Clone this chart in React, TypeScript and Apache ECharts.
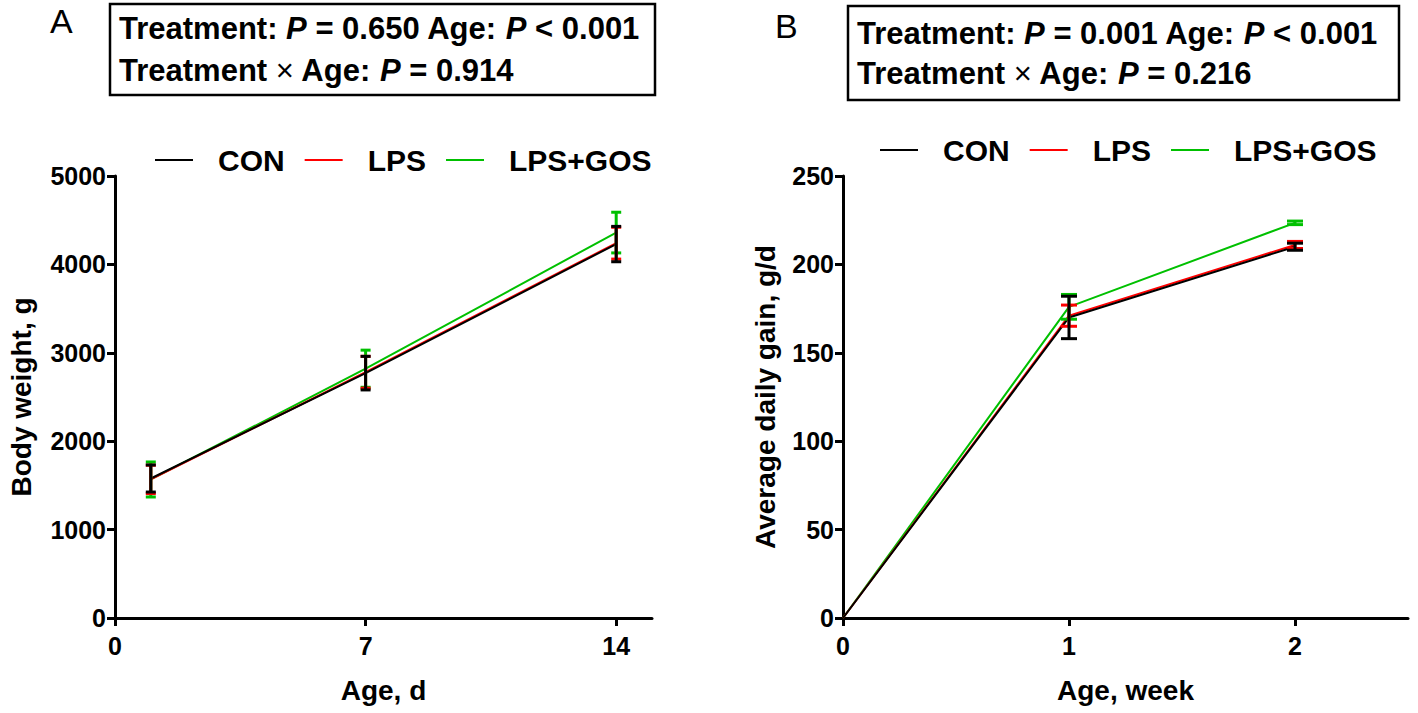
import React, { useEffect, useRef } from "react";
import * as echarts from "echarts";

// ---- Data ----
const seriesNames = ["CON", "LPS", "LPS+GOS"];
const seriesColors = ["#000000", "#ff0000", "#00c000"];

// Panel A: body weight (g) by age (d)
const ageDays = [1, 7, 14];
const bwCON = [1578, 2770, 4230];
const bwCONse = [153, 190, 200];
const bwLPS = [1568, 2780, 4240];
const bwLPSse = [160, 180, 180];
const bwGOS = [1567, 2820, 4360];
const bwGOSse = [198, 210, 230];
const dayTicks = [0, 7, 14];

// Panel B: average daily gain (g/d) by age (week)
const ageWeeks = [0, 1, 2];
const adgCON = [0, 170, 210];
const adgCONse = [0, 12, 2];
const adgLPS = [0, 171, 211];
const adgLPSse = [0, 6, 2];
const adgGOS = [0, 176, 223.5];
const adgGOSse = [0, 7, 1];
const weekTicks = [0, 1, 2];

const statsA = ["0.650", "< 0.001", "0.914"];
const statsB = ["0.001", "< 0.001", "0.216"];

const FONT = "'Liberation Sans', Arial, sans-serif";

export default function App() {
  const ref = useRef<HTMLDivElement>(null);

  useEffect(() => {
    document.body.style.margin = "0";
    if (!ref.current) return;
    const chart = echarts.init(ref.current, null, { renderer: "svg" });

    const zip = (xs: number[], ys: number[]) => xs.map((x, i) => [x, ys[i]]);
    const zip3 = (xs: number[], ys: number[], es: number[]) =>
      xs.map((x, i) => [x, ys[i], es[i]]);

    const makeErr = (capHalf: number, width: number, color: string) =>
      function (params: any, api: any) {
        const x = api.value(0);
        const y = api.value(1);
        const e = api.value(2);
        if (!e) return null;
        const top = api.coord([x, y + e]);
        const bot = api.coord([x, y - e]);
        const st = { stroke: color, lineWidth: width };
        return {
          type: "group",
          children: [
            { type: "line", shape: { x1: top[0], y1: top[1], x2: bot[0], y2: bot[1] }, style: st },
            { type: "line", shape: { x1: top[0] - capHalf, y1: top[1], x2: top[0] + capHalf, y2: top[1] }, style: st },
            { type: "line", shape: { x1: bot[0] - capHalf, y1: bot[1], x2: bot[0] + capHalf, y2: bot[1] }, style: st },
          ],
        };
      };

    const axisCommon = {
      axisLine: { show: true, lineStyle: { color: "#000", width: 3 } },
      axisTick: { show: true, length: 8, lineStyle: { color: "#000", width: 3 } },
      splitLine: { show: false },
      axisLabel: {
        color: "#000", fontFamily: FONT, fontWeight: "bold" as const, fontSize: 25, margin: 9,
        formatter: (v: number) => String(v),
      },
      nameTextStyle: { color: "#000", fontFamily: FONT, fontWeight: "bold" as const, fontSize: 28 },
    };

    const aVals = [bwCON, bwLPS, bwGOS];
    const aErr = [bwCONse, bwLPSse, bwGOSse];
    const bVals = [adgCON, adgLPS, adgGOS];
    const bErr = [adgCONse, adgLPSse, adgGOSse];
    const order = [2, 1, 0];

    const series: any[] = [];
    order.forEach((i) => {
      series.push({
        type: "line", name: seriesNames[i], xAxisIndex: 0, yAxisIndex: 0,
        data: zip(ageDays, aVals[i]), symbol: "none", color: seriesColors[i],
        lineStyle: { color: seriesColors[i], width: 2 }, z: 2,
      });
      series.push({
        type: "line", name: seriesNames[i], xAxisIndex: 1, yAxisIndex: 1,
        data: zip(ageWeeks, bVals[i]), symbol: "none", color: seriesColors[i],
        lineStyle: { color: seriesColors[i], width: 2 }, z: 2,
      });
    });
    order.forEach((i) => {
      series.push({
        type: "custom", name: seriesNames[i] + " SEM A", xAxisIndex: 0, yAxisIndex: 0,
        data: zip3(ageDays, aVals[i], aErr[i]), encode: { x: 0, y: 1 },
        renderItem: makeErr(5, 3, seriesColors[i]), z: 3,
      });
      series.push({
        type: "custom", name: seriesNames[i] + " SEM B", xAxisIndex: 1, yAxisIndex: 1,
        data: zip3(ageWeeks, bVals[i], bErr[i]), encode: { x: 0, y: 1 },
        renderItem: makeErr(8, 3, seriesColors[i]), z: 3,
      });
    });

    const FS = 31;
    const rich = {
      b: { fontFamily: FONT, fontWeight: "bold", fontSize: FS, color: "#000" },
      i: { fontFamily: FONT, fontWeight: "bold", fontStyle: "italic", fontSize: FS, color: "#000" },
      n: { fontFamily: FONT, fontWeight: "normal", fontSize: FS, color: "#000" },
    };
    const line1 = (s: string[]) => `{b|Treatment: }{i|P}{b| = ${s[0]} Age: }{i|P}{b| ${s[1]}}`;
    const line2 = (s: string[]) => `{b|Treatment }{n|×}{b| Age: }{i|P}{b| = ${s[2]}}`;

    const legendCommon = {
      data: seriesNames,
      orient: "horizontal" as const,
      icon: "rect",
      itemWidth: 38,
      itemHeight: 2,
      itemGap: 20,
      textStyle: { color: "#000", fontFamily: FONT, fontWeight: "bold" as const, fontSize: 30, padding: [0, 0, 0, 20] },
    };

    chart.setOption({
      animation: false,
      backgroundColor: "#fff",
      grid: [
        { left: 115, top: 176, width: 537, height: 442 },
        { left: 843, top: 176, width: 565, height: 442 },
      ],
      xAxis: [
        {
          ...axisCommon, type: "value", gridIndex: 0, min: 0, max: 15,
          name: "Age, d", nameLocation: "middle", nameGap: 58,
          axisTick: { ...axisCommon.axisTick, customValues: dayTicks },
          axisLabel: { ...axisCommon.axisLabel, margin: 15, customValues: dayTicks },
        },
        {
          ...axisCommon, type: "value", gridIndex: 1, min: 0, max: 2.5,
          name: "Age, week", nameLocation: "middle", nameGap: 58,
          axisTick: { ...axisCommon.axisTick, customValues: weekTicks },
          axisLabel: { ...axisCommon.axisLabel, margin: 15, customValues: weekTicks },
        },
      ],
      yAxis: [
        {
          ...axisCommon, type: "value", gridIndex: 0, min: 0, max: 5000, interval: 1000,
          name: "Body weight, g", nameLocation: "middle", nameGap: 80,
        },
        {
          ...axisCommon, type: "value", gridIndex: 1, min: 0, max: 250, interval: 50,
          name: "Average daily gain, g/d", nameLocation: "middle", nameGap: 64,
        },
      ],
      legend: [
        { ...legendCommon, left: 150, top: 140 },
        { ...legendCommon, left: 875, top: 130 },
      ],
      graphic: [
        { type: "text", left: 50, top: 4, style: { text: "A", font: `normal 34px ${FONT}`, fill: "#000" } },
        { type: "text", left: 775, top: 9, style: { text: "B", font: `normal 34px ${FONT}`, fill: "#000" } },
        { type: "rect", shape: { x: 110, y: 4, width: 545, height: 91 }, style: { fill: "none", stroke: "#000", lineWidth: 2.5 } },
        { type: "text", x: 119, y: 13, style: { text: line1(statsA), rich, fill: "#000" } },
        { type: "text", x: 119, y: 55, style: { text: line2(statsA), rich, fill: "#000" } },
        { type: "rect", shape: { x: 848, y: 6, width: 551, height: 94 }, style: { fill: "none", stroke: "#000", lineWidth: 2.5 } },
        { type: "text", x: 857, y: 18, style: { text: line1(statsB), rich, fill: "#000" } },
        { type: "text", x: 857, y: 58, style: { text: line2(statsB), rich, fill: "#000" } },
      ],
      series,
    });

    return () => chart.dispose();
  }, []);

  return <div ref={ref} style={{ width: 1418, height: 713, position: "absolute", left: 0, top: 0 }} />;
}
